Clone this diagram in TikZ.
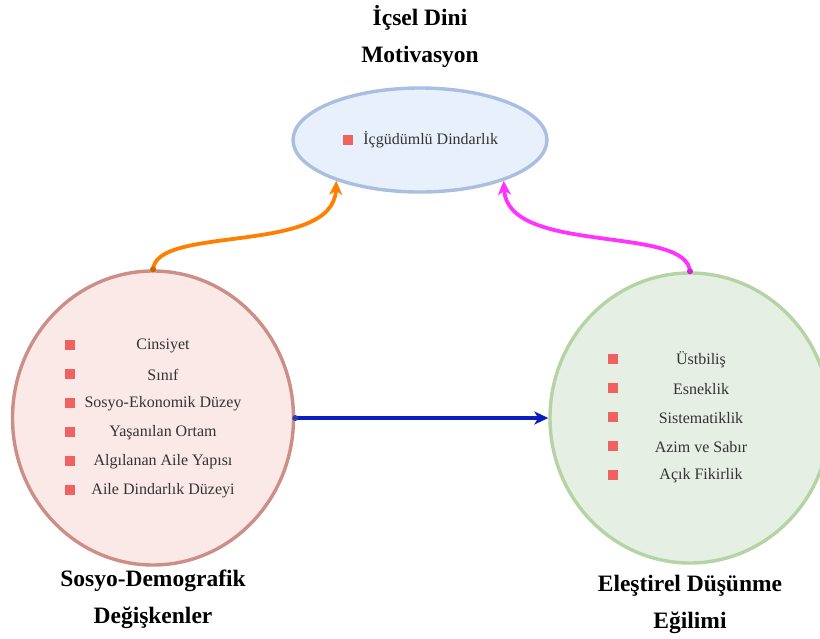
\documentclass[tikz,border=0pt]{standalone}
\usepackage{fontspec}
\setmainfont{Liberation Serif}
\usetikzlibrary{shapes.geometric, arrows.meta, positioning}

\definecolor{txtgray}{HTML}{333333}
\definecolor{sqred}{HTML}{F06262}
\definecolor{topfill}{HTML}{E8F0FB}
\definecolor{topline}{HTML}{A9BEE0}
\definecolor{leftfill}{HTML}{FBE9E7}
\definecolor{leftline}{HTML}{CC8F87}
\definecolor{rightfill}{HTML}{E6EFE4}
\definecolor{rightline}{HTML}{B5D3A5}
\definecolor{arrorange}{HTML}{FF8000}
\definecolor{arrmagenta}{HTML}{FF33FF}
\definecolor{arrblue}{HTML}{0A1EC0}

\begin{document}
\begin{tikzpicture}[x=1pt, y=1pt, line width=3.4pt,
	main/.style = {draw, ellipse, inner sep=0pt},
	sq/.style = {fill=sqred, minimum size=10pt, inner sep=0pt},
	item/.style = {text=txtgray, font=\fontsize{16}{19}\selectfont, inner sep=0pt},
	head/.style = {font=\bfseries\fontsize{23.5}{37}\selectfont, align=center, inner sep=0pt},
	conn/.style = {-{Stealth[length=14pt, width=13pt, inset=4pt]}, line width=3.8pt, shorten <=-1.5pt}]
	\useasboundingbox (0,0) rectangle (820,-638);

	\node[main, fill=topfill, draw=topline, minimum width=254pt, minimum height=104pt] (1) at (420,-140) {};
	\node[main, fill=leftfill, draw=leftline, minimum width=281pt, minimum height=294pt] (2) at (153,-418) {};
	\node[main, fill=rightfill, draw=rightline, minimum width=280pt, minimum height=290pt] (3) at (690,-418) {};

	\node[head] (t1) at (420,-36) {İçsel Dini\\Motivasyon};
	\node[head] (t2) at (153,-599) {Sosyo-Demografik\\Değişkenler};
	\node[head] (t3) at (690,-604) {Eleştirel Düşünme\\Eğilimi};

	\node[sq] (b1) at (348,-140) {};
	\node[item, right=7pt of b1] (i1) {İçgüdümlü Dindarlık};

	\foreach \name/\y [count=\i] in {Cinsiyet/346, Sınıf/375, Sosyo-Ekonomik Düzey/404, Yaşanılan Ortam/433, Algılanan Aile Yapısı/462, Aile Dindarlık Düzeyi/491}{
		\node[sq] (l\i) at (70,-\y+1) {};
		\node[item] (lt\i) at (163,-\y) {\name};
	}

	\foreach \name/\y [count=\i] in {Üstbiliş/360, Esneklik/389, Sistematiklik/418, Azim ve Sabır/447, Açık Fikirlik/476}{
		\node[sq] (r\i) at (613,-\y+1) {};
		\node[item] (rt\i) at (701,-\y) {\name};
	}

	\draw[conn, arrorange] (2.north) .. controls (153,-224) and (333,-256) .. (1.206);
	\draw[conn, arrmagenta] (3.north) .. controls (690,-224) and (508,-256) .. (1.334);
	\draw[conn, arrblue] (2.east) -- (3.west);

	\fill[arrorange!80!black] (2.north) circle (3pt);
	\fill[arrmagenta!80!black] (3.north) circle (3pt);
	\fill[arrblue!70!gray] (2.east) circle (3pt);
\end{tikzpicture}
\end{document}
